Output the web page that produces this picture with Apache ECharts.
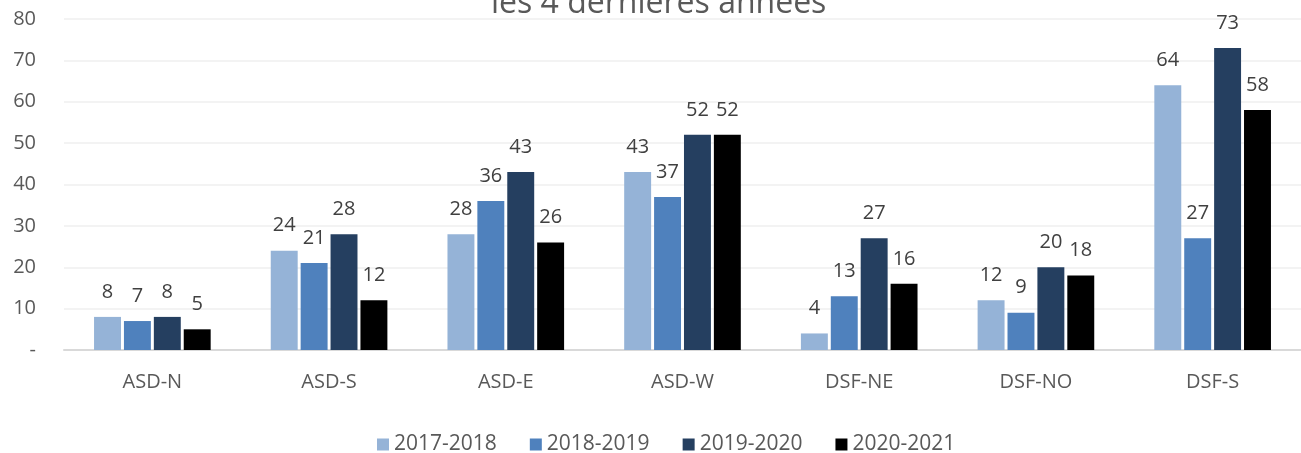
<!DOCTYPE html>
<html><head><meta charset="utf-8">
<script src="https://cdn.jsdelivr.net/npm/echarts@6/dist/echarts.min.js"></script>
<style>html,body{margin:0;padding:0;background:#fff}#c{width:1301px;height:453px}</style>
</head><body><div id="c"></div>
<script>
const categories = ['ASD-N','ASD-S','ASD-E','ASD-W','DSF-NE','DSF-NO','DSF-S'];
const seriesNames = ['2017-2018','2018-2019','2019-2020','2020-2021'];
const s2017 = [8,24,28,43,4,12,64];
const s2018 = [7,21,36,37,13,9,27];
const s2019 = [8,28,43,52,27,20,73];
const s2020 = [5,12,26,52,16,18,58];
const colors = ['#95B3D7','#4F81BD','#253F60','#000000'];
const values = [s2017,s2018,s2019,s2020];
const font = "'Open Sans', 'Noto Sans', sans-serif";
const chart = echarts.init(document.getElementById('c'));
chart.setOption({
  animation:false,
  title:{text:'les 4 dernières années',left:486,top:-17,padding:[5,5,5,5],textStyle:{fontFamily:font,fontSize:32,fontWeight:'normal',color:'#595959'}},
  grid:{left:64,right:0,top:19,bottom:103,containLabel:false},
  legend:{bottom:-7,left:372,itemWidth:12,itemHeight:12,itemGap:33,icon:'rect',textStyle:{fontFamily:font,fontSize:21,color:'#595959'},data:seriesNames},
  xAxis:{type:'category',data:categories,axisLine:{lineStyle:{color:'#d9d9d9',width:2}},axisTick:{show:false},axisLabel:{fontFamily:font,fontSize:20,color:'#595959',margin:22}},
  yAxis:{type:'value',min:0,max:80,interval:10,axisLine:{show:false},axisTick:{show:false},splitLine:{lineStyle:{color:'#efefef',width:1.5}},axisLabel:{fontFamily:font,fontSize:20,color:'#595959',margin:28,formatter:v=>v===0?'-':v}},
  series:values.map((d,i)=>({name:seriesNames[i],type:'bar',data:d,barGap:'11%',barCategoryGap:'34%',itemStyle:{color:colors[i]},label:{show:true,position:'top',distance:15,fontFamily:font,fontSize:20,color:'#404040'}}))
});
</script></body></html>
